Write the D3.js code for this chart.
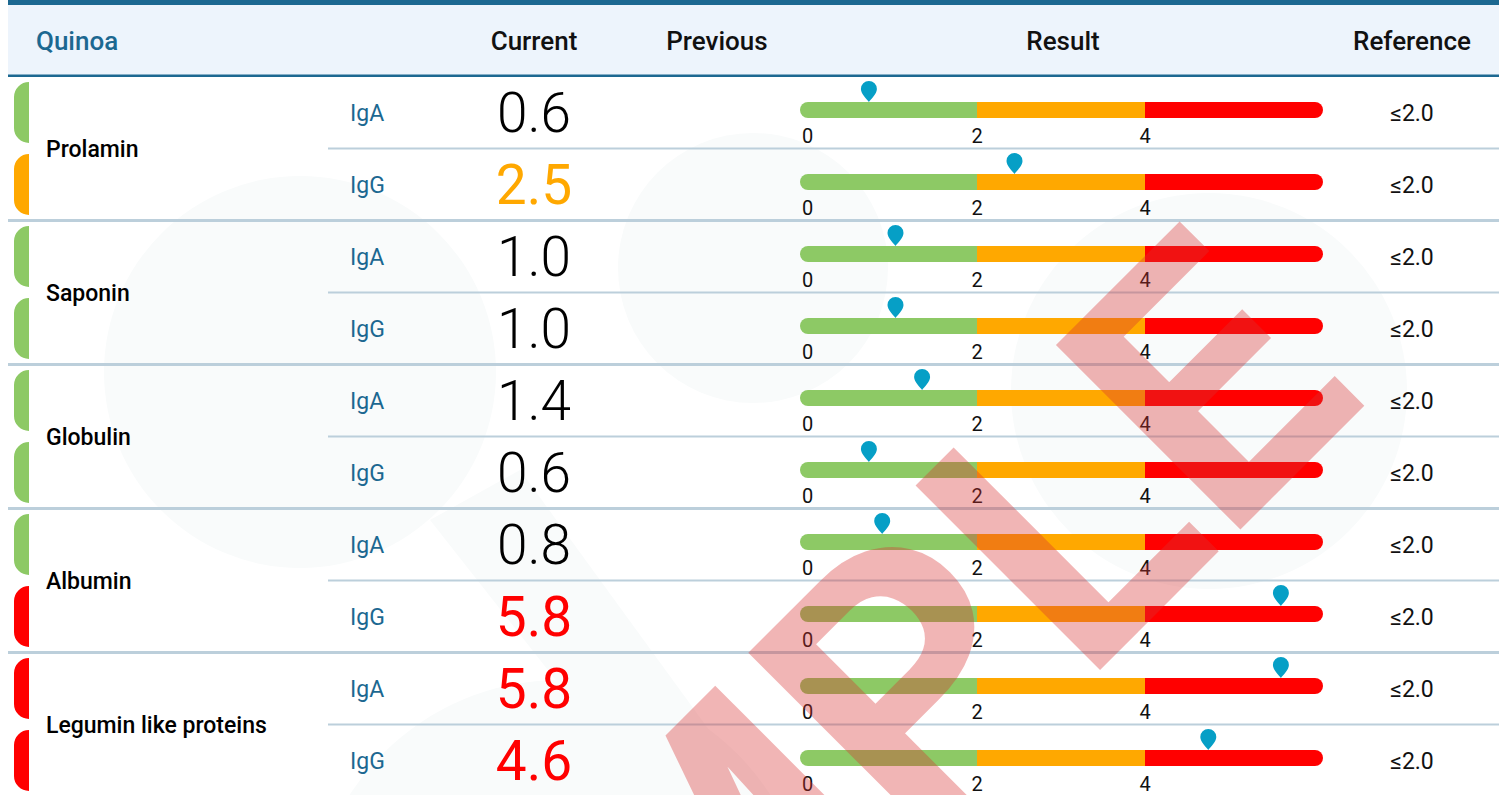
<!DOCTYPE html>
<html>
<head>
<meta charset="utf-8">
<script src="https://cdn.jsdelivr.net/npm/d3@7/dist/d3.min.js"></script>
<style>
    body { margin: 0; background: #fff; }
    svg { display: block; font-family: Roboto, "Noto Sans", sans-serif; }
</style>
</head>
<body>
<svg id="chart"></svg>
<script>
/***** Data *****/
var panelTitle = "Quinoa";
var columnTitles = ["Current", "Previous", "Result", "Reference"];
var groups = ["Prolamin", "Saponin", "Globulin", "Albumin", "Legumin like proteins"];
var antibodies = ["IgA", "IgG"];
var currentValues = [0.6, 2.5, 1.0, 1.0, 1.4, 0.6, 0.8, 5.8, 5.8, 4.6];
var referenceLabels = ["≤2.0", "≤2.0", "≤2.0", "≤2.0", "≤2.0", "≤2.0", "≤2.0", "≤2.0", "≤2.0", "≤2.0"];
var bandLimits = [0, 2, 4, 6];
var tickValues = [0, 2, 4];

(function (d3) {

    /***** Configuration *****/
    var width = 1499, height = 795;
    var headerBottom = 76.5, rowHeight = 72;
    var blue = "#1c6891";
    var lineColor = "#bccfdb";
    var bandColors = ["#8dc965", "#ffa800", "#ff0000"];
    var textColors = ["#000000", "#ffa800", "#ff0000"];
    var markerColor = "#069fc6";
    var colX = { current: 534, previous: 717, result: 1063, reference: 1412 };

    var rows = [];
    groups.forEach(function (g, gi) {
        antibodies.forEach(function (ab, ai) {
            var i = gi * antibodies.length + ai;
            rows.push({ group: g, groupIndex: gi, sub: ai, ab: ab, value: currentValues[i], ref: referenceLabels[i] });
        });
    });

    /***** Scales *****/
    var y = d3.scaleBand().domain(d3.range(rows.length))
              .range([headerBottom, headerBottom + rowHeight * rows.length]);
    var xBar = d3.scaleLinear().domain(bandLimits).range([800, 977, 1145, 1323]);
    var xMarker = d3.scaleLinear().domain(bandLimits).range([829, 962, 1172, 1293]);
    var status = d3.scaleThreshold().domain([2, 4]).range([0, 1, 2]);

    var svg = d3.select("#chart").attr("width", width).attr("height", height);

    /***** Faint background shapes *****/
    var bg = svg.append("g").attr("fill", "#f9fbfb");
    [[300, 372, 196], [753, 268, 135], [1209, 391, 198], [560, 930, 250]].forEach(function (c) {
        bg.append("circle").attr("cx", c[0]).attr("cy", c[1]).attr("r", c[2]);
    });
    bg.append("path").attr("d", "M430,520 L520,470 L760,800 L650,800 Z");

    /***** Header *****/
    svg.append("rect").attr("x", 8).attr("y", 0).attr("width", width - 8).attr("height", 5).attr("fill", blue);
    svg.append("rect").attr("x", 8).attr("y", 5).attr("width", width - 8).attr("height", 70).attr("fill", "#edf4fc");
    svg.append("rect").attr("x", 8).attr("y", 74.5).attr("width", width - 8).attr("height", 2.5).attr("fill", blue);

    var header = svg.append("g").attr("font-size", 26).attr("font-weight", 500);
    header.append("text").attr("x", 36).attr("y", 50).attr("fill", blue).text(panelTitle);
    header.selectAll("text.col")
          .data(columnTitles)
          .enter().append("text")
          .attr("class", "col")
          .attr("x", function (d, i) { return [colX.current, colX.previous, colX.result, colX.reference][i]; })
          .attr("y", 50)
          .attr("text-anchor", "middle")
          .attr("fill", "#111")
          .text(function (d) { return d; });

    /***** Separators *****/
    svg.selectAll("rect.sep")
       .data(rows.slice(0, rows.length - 1))
       .enter().append("rect")
       .attr("class", "sep")
       .attr("x", function (d) { return d.sub === 0 ? 328 : 8; })
       .attr("y", function (d, i) { return y(i) + rowHeight - (d.sub === 0 ? 1 : 1.5); })
       .attr("width", function (d) { return d.sub === 0 ? width - 328 : width - 8; })
       .attr("height", function (d) { return d.sub === 0 ? 2 : 3; })
       .attr("fill", lineColor);

    /***** Group labels *****/
    svg.selectAll("text.group")
       .data(groups)
       .enter().append("text")
       .attr("class", "group")
       .attr("x", 46)
       .attr("y", function (d, i) { return y(i * 2) + rowHeight; })
       .attr("dy", "0.355em")
       .attr("font-size", 23)
       .attr("font-weight", 500)
       .attr("fill", "#000")
       .text(function (d) { return d; });

    /***** Rows *****/
    var clip = svg.append("defs").append("clipPath").attr("id", "bar-clip");
    clip.append("rect").attr("x", xBar(0)).attr("y", -8)
        .attr("width", xBar(6) - xBar(0)).attr("height", 16).attr("rx", 8);

    var row = svg.selectAll("g.row")
                 .data(rows)
                 .enter().append("g")
                 .attr("class", "row")
                 .attr("transform", function (d, i) { return "translate(0," + (y(i) + rowHeight / 2) + ")"; });

    // status pill on the left
    row.append("path")
       .attr("d", function () {
           var x0 = 14, w = 15, h = 61, top = -30.5, r = 15;
           return "M" + (x0 + w) + "," + top + " V" + (top + h) + " H" + (x0 + r) +
                  " A" + r + "," + r + " 0 0 1 " + x0 + "," + (top + h - r) +
                  " V" + (top + r) + " A" + r + "," + r + " 0 0 1 " + (x0 + r) + "," + top + " Z";
       })
       .attr("fill", function (d) { return bandColors[status(d.value)]; });

    row.append("text")
       .attr("x", 350).attr("dy", "0.355em")
       .attr("font-size", 23)
       .attr("fill", blue)
       .text(function (d) { return d.ab; });

    row.append("text")
       .attr("x", colX.current).attr("dy", "0.355em")
       .attr("text-anchor", "middle")
       .attr("font-size", 55)
       .attr("font-family", function (d) { return status(d.value) === 0 ? "'Roboto Light', Roboto, sans-serif" : null; })
       .attr("font-weight", function (d) { return status(d.value) === 0 ? 200 : 400; })
       .attr("fill", function (d) { return textColors[status(d.value)]; })
       .text(function (d) { return d3.format(".1f")(d.value); });

    var bar = row.append("g").attr("transform", "translate(0,-2.5)");
    bar.append("g").attr("clip-path", "url(#bar-clip)")
       .selectAll("rect")
       .data(d3.pairs(bandLimits))
       .enter().append("rect")
       .attr("x", function (d) { return xBar(d[0]); })
       .attr("y", -8)
       .attr("width", function (d) { return xBar(d[1]) - xBar(d[0]); })
       .attr("height", 16)
       .attr("fill", function (d, i) { return bandColors[i]; });

    bar.selectAll("text.tick")
       .data(tickValues)
       .enter().append("text")
       .attr("class", "tick")
       .attr("x", function (d, i) { return i === 0 ? xBar(d) + 2 : xBar(d); })
       .attr("y", 33)
       .attr("text-anchor", function (d, i) { return i === 0 ? "start" : "middle"; })
       .attr("font-size", 20)
       .attr("fill", "#111")
       .text(function (d) { return d; });

    bar.append("path")
       .attr("transform", function (d) { return "translate(" + xMarker(d.value) + ",-8)"; })
       .attr("d", "M0,0 C-2,-3 -8,-8 -8,-13 A8,8 0 1 1 8,-13 C8,-8 2,-3 0,0 Z")
       .attr("fill", markerColor);

    row.append("text")
       .attr("x", colX.reference).attr("dy", "0.355em")
       .attr("text-anchor", "middle")
       .attr("font-size", 23)
       .attr("fill", "#111")
       .text(function (d) { return d.ref; });

    /***** Watermark *****/
    svg.append("text")
       .attr("transform", "translate(1370,400) rotate(-45)")
       .attr("text-anchor", "end")
       .attr("font-size", 367)
       .attr("font-weight", 700)
       .attr("fill", "rgba(215,50,50,0.36)")
       .attr("pointer-events", "none")
       .text("SAMPLE");

})(d3);
</script>
</body>
</html>
